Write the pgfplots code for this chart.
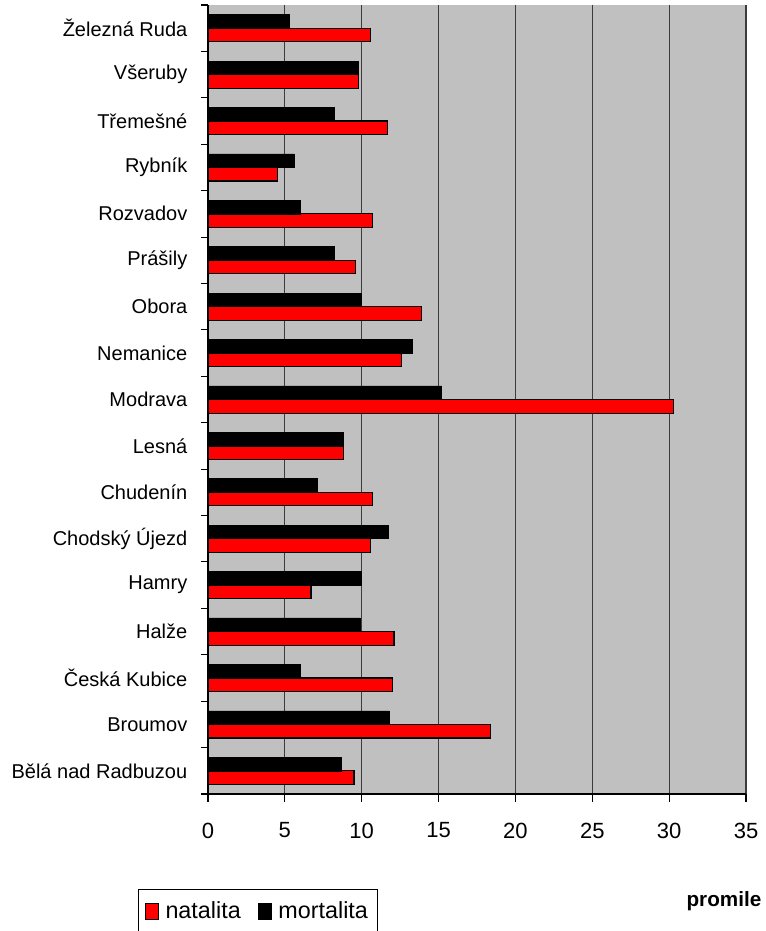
\documentclass[border=0pt]{standalone}
\usepackage{pgfplots}
\pgfplotsset{compat=1.18}
\usepackage{fontspec}
\setmainfont{Liberation Sans}
\definecolor{plotbg}{RGB}{192,192,192}
\definecolor{gridc}{RGB}{60,60,60}
\begin{document}
\begin{tikzpicture}
\useasboundingbox (0,0) rectangle (574.5pt,698.25pt);
\begin{axis}[
    at={(156pt,102.75pt)}, anchor=south west,
    scale only axis,
    width=403.5pt, height=591.75pt,
    xbar=0pt, bar width=10.2pt,
    xmin=0, xmax=35,
    ymin=-0.5, ymax=16.5,
    clip=false,
    xtick={0,5,...,35},
    ytick={0,...,16},
    yticklabels={Bělá nad Radbuzou\ ,Broumov,Česká Kubice,Halže\ ,Hamry,Chodský Újezd\ ,Chudenín,Lesná,Modrava\ ,Nemanice,Obora\ ,Prášily,Rozvadov,Rybník,Třemešné,Všeruby,Železná Ruda},
    minor ytick={-0.5,0.5,...,16.5},
    major y tick style={draw=none},
    minor tick length=5pt,
    major tick length=6pt,
    tick align=outside,
    tick pos=left,
    axis x line*=bottom, axis y line*=left,
    axis line style={black, line width=0.8pt},
    tick style={black, line width=0.8pt},
    xmajorgrids, grid style={gridc, line width=0.8pt},
    axis background/.style={fill=plotbg},
    yticklabel style={xshift=-6pt, font=\fontsize{15}{18}\selectfont},
    xticklabel style={yshift=-12pt, font=\fontsize{16.5}{19}\selectfont},
    /pgf/number format/assume math mode=true,
    legend style={at={(-0.130,-0.1204)}, anchor=north west,
        legend columns=2, draw=black, line width=0.6pt,
        font=\fontsize{17.5}{20}\selectfont,
        inner xsep=5pt, inner ysep=7.5pt,
        /tikz/every odd column/.append style={column sep=3pt},
        /tikz/every even column/.append style={column sep=11pt}},
    legend image code/.code={\draw[#1, line width=0.8pt] (0pt,-6pt) rectangle (9.5pt,6pt);},
]
\addplot[fill=red, draw=black, line width=0.8pt] coordinates {
(9.5,0) (18.4,1) (12.0,2) (12.1,3) (6.7,4) (10.6,5) (10.7,6) (8.8,7) (30.3,8)
(12.6,9) (13.9,10) (9.6,11) (10.7,12) (4.5,13) (11.7,14) (9.8,15) (10.6,16)};
\addlegendentry{natalita}
\addplot[fill=black, draw=black] coordinates {
(8.7,0) (11.8,1) (6.0,2) (9.9,3) (10.0,4) (11.7,5) (7.1,6) (8.8,7) (15.2,8)
(13.3,9) (9.95,10) (8.2,11) (6.0,12) (5.6,13) (8.2,14) (9.8,15) (5.3,16)};
\addlegendentry{mortalita}
\node[font=\fontsize{15.5}{18}\selectfont\bfseries] at (rel axis cs:0.959,-0.136) {promile};
\end{axis}
\end{tikzpicture}
\end{document}
